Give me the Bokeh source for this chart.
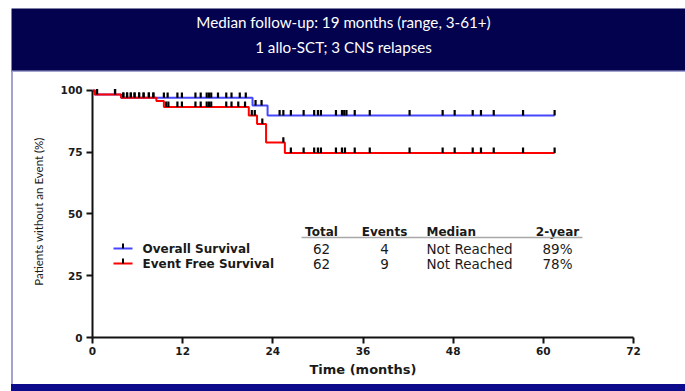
import numpy as np
from bokeh.plotting import figure
from bokeh.layouts import column, row
from bokeh.models import FixedTicker, Range1d, Spacer
from bokeh.core.properties import value
from bokeh.embed import file_html
from bokeh.resources import INLINE

# ---------------- data ----------------
title_lines = ["Median follow-up: 19 months (range, 3-61+)", "1 allo-SCT; 3 CNS relapses"]

# Kaplan-Meier step functions (months, % without event)
os_times = [0, 0.3, 3.8, 21.3, 23.3, 61.5]
os_surv = [100, 98.4, 97.0, 93.9, 89.9, 89.9]
efs_times = [0, 0.3, 3.8, 8.5, 9.5, 20.8, 21.9, 23.1, 25.6, 61.5]
efs_surv = [100, 98.4, 97.0, 95.7, 93.3, 89.9, 86.4, 78.9, 74.7, 74.7]

# censored observations (months)
os_censored = [0.6, 3.0, 4.1, 4.6, 5.1, 5.6, 6.2, 6.8, 7.5, 8.1, 9.5, 10.0, 11.3, 11.9,
               13.7, 14.4, 15.2, 15.5, 15.8, 16.7, 17.8, 18.5, 19.6, 20.4, 21.7, 22.5,
               24.9, 25.4, 26.4, 28.1, 29.5, 30.0, 30.4, 32.4, 33.2, 33.5, 33.8, 34.9,
               36.9, 42.2, 46.6, 48.2, 50.6, 51.7, 53.4, 57.3, 61.5]
efs_censored = [0.6, 3.0, 4.1, 4.6, 5.1, 5.6, 6.2, 6.8, 7.5, 8.1, 9.8, 10.1, 11.3, 11.9,
                13.7, 14.4, 15.2, 15.5, 15.8, 17.8, 18.5, 19.4, 20.3, 21.2, 21.6, 22.6,
                25.4, 26.4, 28.1, 29.5, 30.0, 30.4, 32.4, 33.2, 33.6, 34.9, 36.9, 42.2,
                46.6, 48.2, 50.6, 51.7, 53.4, 57.3, 61.5]

x_ticks = [0, 12, 24, 36, 48, 60, 72]
y_ticks = [0, 25, 50, 75, 100]

table_cols = ["Total", "Events", "Median", "2-year"]
series_names = ["Overall Survival", "Event Free Survival"]
series_colors = ["#4646ff", "#ff0000"]
totals = [62, 62]
events = [4, 9]
medians = ["Not Reached", "Not Reached"]
two_year = ["89%", "78%"]

# ---------------- colours / page geometry ----------------
NAVY = "#02024f"
EDGE = "#a3a3cf"
FOOT = "#0b0b8c"
INK = "#1a1a1a"
PAGE_W = 685
HEAD_H = 72        # header band incl. light lower edge
FOOT_H = 7
MAIN_H = 391 - HEAD_H - FOOT_H
LEFT_PAD = 11
EDGE_W = 2
MAIN_W = PAGE_W - LEFT_PAD - EDGE_W

# main plot frame borders (px)
FL, FR, FT, FB = 79, 52, 13, 47
XR = (0, 72)
YR = (0, 102)

# header band with the two title lines (pixel coordinates, y down)
header = figure(width=PAGE_W, height=HEAD_H, x_range=Range1d(LEFT_PAD, PAGE_W),
                y_range=Range1d(HEAD_H, 8), output_backend="svg", toolbar_location=None,
                x_axis_type=None, y_axis_type=None,
                min_border_left=LEFT_PAD, min_border_right=0, min_border_top=8,
                min_border_bottom=0)
header.outline_line_color = None
header.grid.visible = False
header.background_fill_color = NAVY
header.border_fill_color = "white"
header.quad(left=[LEFT_PAD], right=[PAGE_W], top=[70], bottom=[HEAD_H],
            fill_color=EDGE, line_color=None)
header.text(x=[343, 343], y=[21, 46], text=title_lines, text_align="center",
            text_baseline="middle", text_color="white",
            text_font=value("Lato"), text_font_size="15.2px")

# light left edge of the white panel and the bottom band
edge = Spacer(width=EDGE_W, height=MAIN_H, styles={"background-color": EDGE})
footer = Spacer(width=PAGE_W - LEFT_PAD, height=FOOT_H, styles={"background-color": FOOT})

# ---------------- survival plot ----------------
p = figure(width=MAIN_W, height=MAIN_H, x_range=XR, y_range=YR,
           output_backend="svg", toolbar_location=None,
           min_border_left=FL, min_border_right=FR,
           min_border_top=FT, min_border_bottom=FB)
p.outline_line_color = None
p.grid.visible = False
p.background_fill_color = "white"
p.border_fill_color = "white"

# page px -> data helpers for the in-plot table
OX, OY = LEFT_PAD + EDGE_W, HEAD_H


def dx(px):
    return XR[0] + (px - OX - FL) * (XR[1] - XR[0]) / (MAIN_W - FL - FR)


def dy(py):
    return YR[0] + (OY + MAIN_H - FB - py) * (YR[1] - YR[0]) / (MAIN_H - FT - FB)


def level_at(times, surv, t):
    i = np.searchsorted(np.asarray(times), t, side="right") - 1
    return surv[i]


for ax in (p.xaxis, p.yaxis):
    ax.axis_line_width = 2
    ax.axis_line_color = "#111111"
    ax.major_tick_line_width = 2
    ax.major_tick_line_color = "#111111"
    ax.major_tick_out = 6
    ax.major_tick_in = 0
    ax.minor_tick_line_color = None
    ax.major_label_text_font = "DejaVu Sans"
    ax.major_label_text_font_style = "bold"
    ax.major_label_text_font_size = "10.5px"
    ax.major_label_text_color = INK

p.xaxis.ticker = FixedTicker(ticks=x_ticks)
p.xaxis.bounds = (0, 72)
p.xaxis.major_label_standoff = 3
p.xaxis.axis_label = "Time (months)"
p.xaxis.axis_label_text_font = "DejaVu Sans"
p.xaxis.axis_label_text_font_style = "bold"
p.xaxis.axis_label_text_font_size = "13px"
p.xaxis.axis_label_text_color = INK
p.xaxis.axis_label_standoff = 4

p.yaxis.ticker = FixedTicker(ticks=y_ticks)
p.yaxis.bounds = (0, 100)
p.yaxis.major_label_standoff = 4
p.yaxis.axis_label = "Patients without an Event (%)"
p.yaxis.axis_label_text_font = "Lato"
p.yaxis.axis_label_text_font_style = "normal"
p.yaxis.axis_label_text_font_size = "11.5px"
p.yaxis.axis_label_text_color = INK
p.yaxis.axis_label_standoff = 13

# survival curves with censor ticks
curves = [(os_times, os_surv, os_censored), (efs_times, efs_surv, efs_censored)]
for (times, surv, cens), color in zip(curves, series_colors):
    p.step(times, surv, mode="after", line_color=color, line_width=2)
    cy = [level_at(times, surv, t) for t in cens]
    p.segment(x0=cens, y0=cy, x1=cens, y1=[v + 2.2 for v in cy],
              line_color="black", line_width=2.2)

# summary table
col_x = [dx(321), dx(384), dx(426), dx(557)]
col_align = ["center", "center", "left", "center"]
for txt, x, al in zip(table_cols, col_x, col_align):
    p.text(x=[x], y=[dy(231)], text=[txt], text_align=al, text_baseline="middle",
           text_font=value("DejaVu Sans"), text_font_style="bold",
           text_font_size="12px", text_color=INK)
p.segment(x0=[dx(301)], y0=[dy(237)], x1=[dx(582)], y1=[dy(237)],
          line_color="#a8a8a8", line_width=1.5)

row_y = [dy(248), dy(263)]
for i, (ry, color) in enumerate(zip(row_y, series_colors)):
    p.segment(x0=[dx(113)], y0=[ry], x1=[dx(132)], y1=[ry], line_color=color, line_width=2)
    p.segment(x0=[dx(122.5)], y0=[ry], x1=[dx(122.5)], y1=[ry + 2.0],
              line_color="black", line_width=2)
    p.text(x=[dx(142)], y=[ry], text=[series_names[i]], text_align="left",
           text_baseline="middle", text_font=value("DejaVu Sans"),
           text_font_style="bold", text_font_size="12px", text_color=INK)
    row_vals = [str(totals[i]), str(events[i]), medians[i], two_year[i]]
    for txt, x, al in zip(row_vals, col_x, col_align):
        p.text(x=[x], y=[ry], text=[txt], text_align=al, text_baseline="middle",
               text_font=value("DejaVu Sans"), text_font_size="13.5px",
               text_color=INK)

layout = column(header,
                row(Spacer(width=LEFT_PAD, height=MAIN_H), edge, p, spacing=0),
                row(Spacer(width=LEFT_PAD, height=FOOT_H), footer, spacing=0),
                spacing=0)

open("out.html", "w").write(file_html(layout, INLINE))
